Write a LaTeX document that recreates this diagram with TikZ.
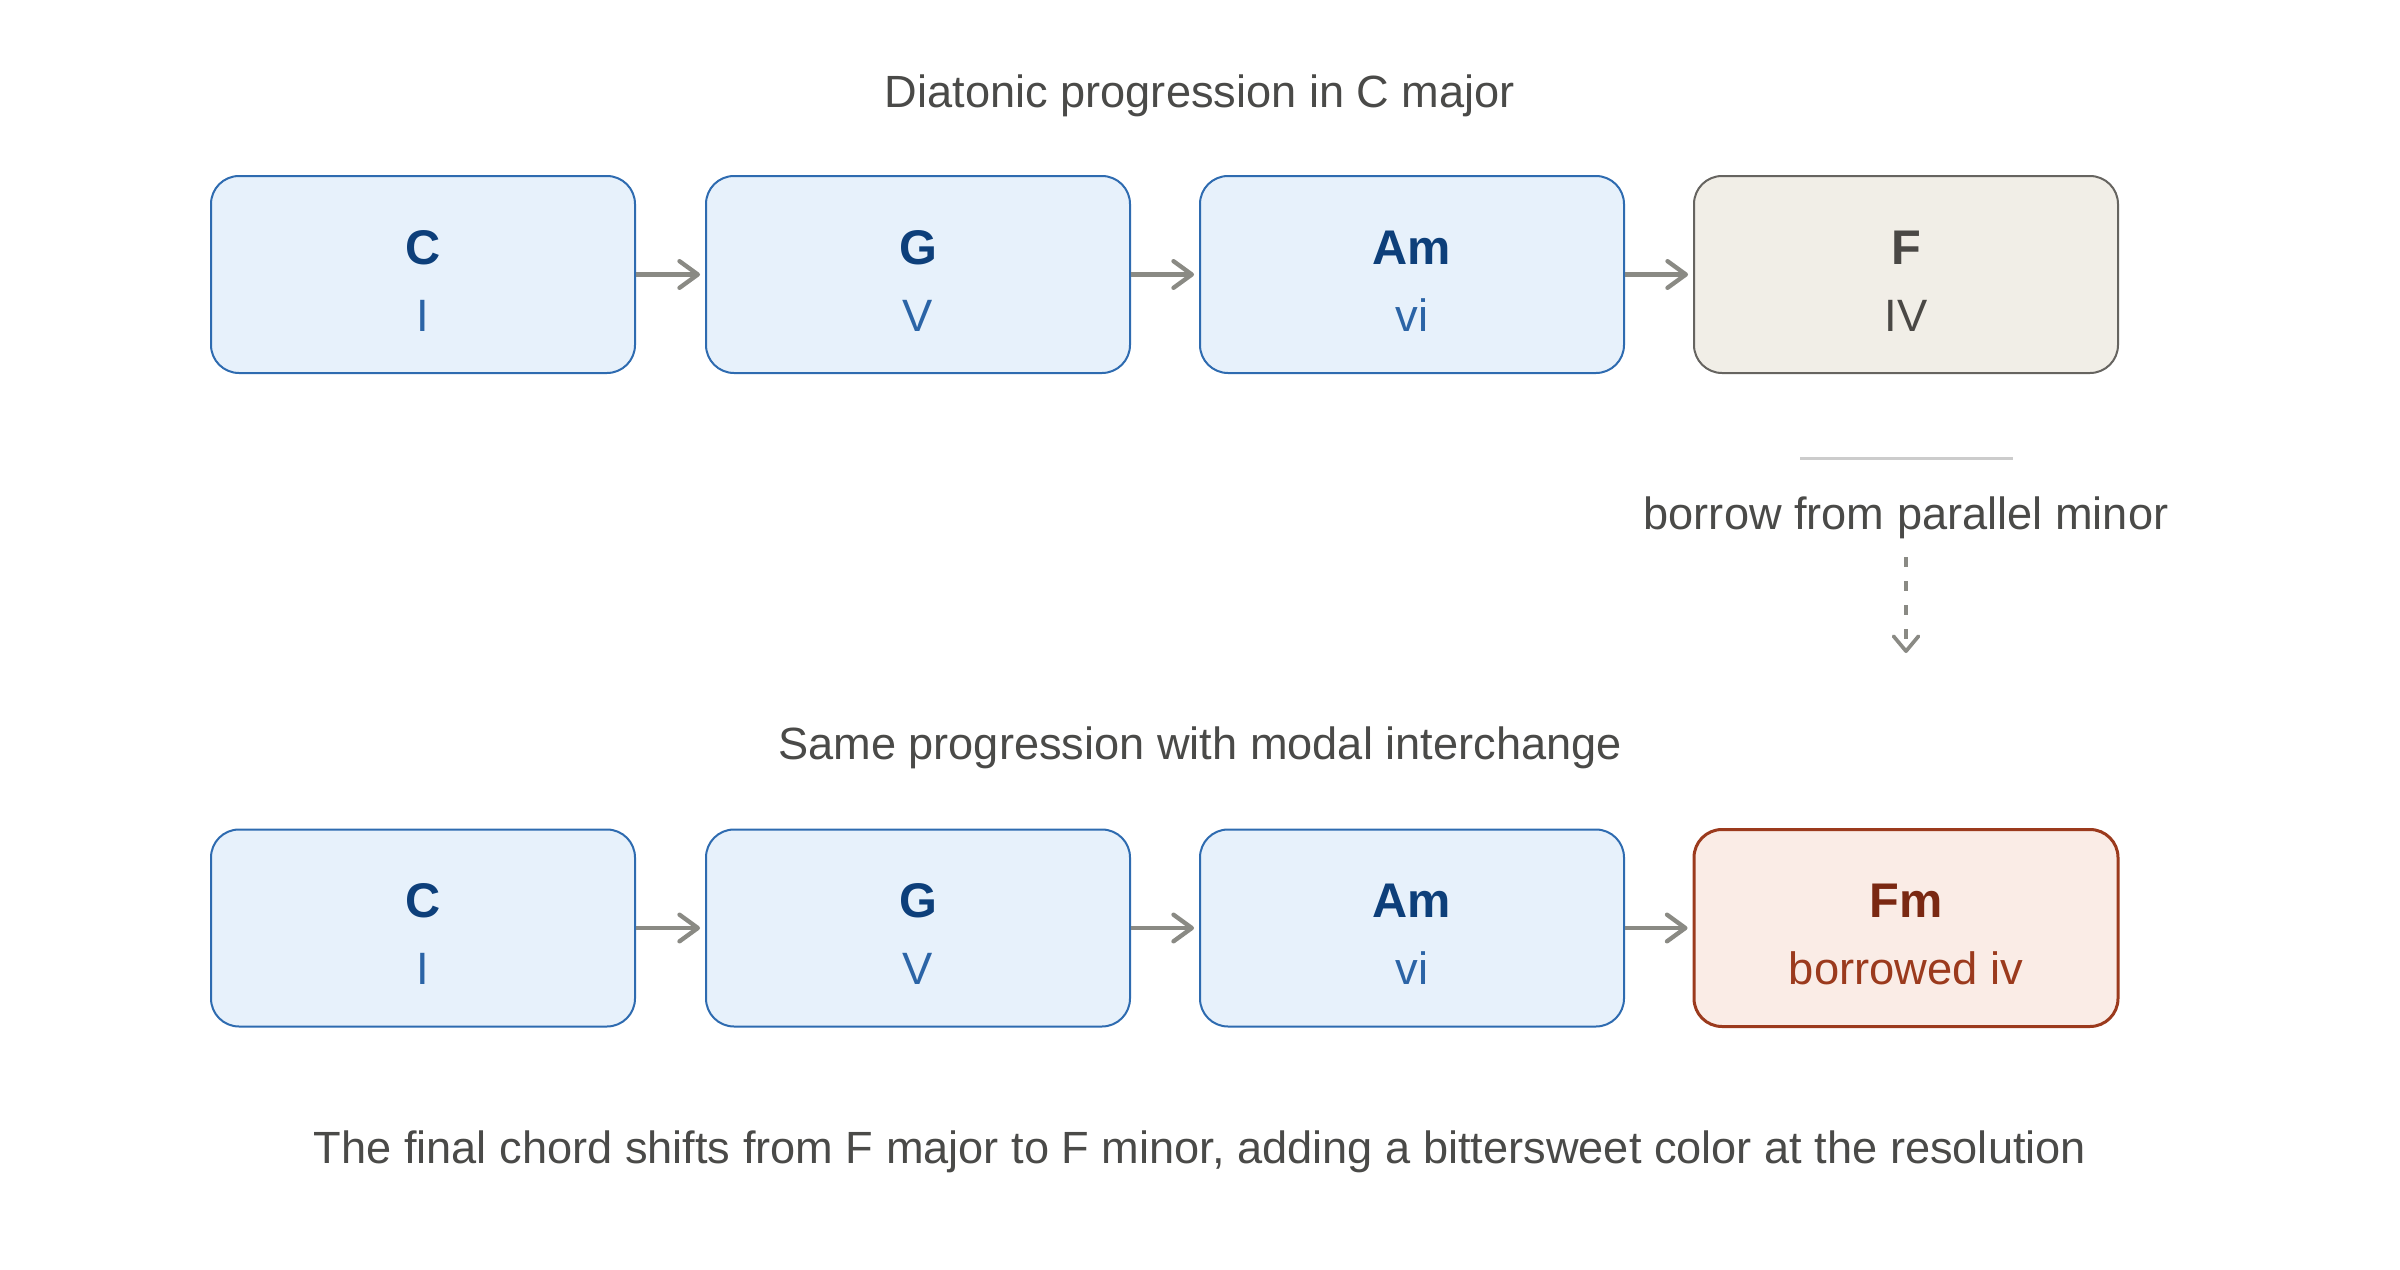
\documentclass[tikz,border=0pt]{standalone}
\usepackage{fontspec}
\setmainfont{Liberation Sans}
\usetikzlibrary{arrows.meta,calc}
\definecolor{bluefill}{HTML}{E7F1FB}
\definecolor{blueline}{HTML}{2E6BB0}
\definecolor{bluechord}{HTML}{0D3F7A}
\definecolor{blueroman}{HTML}{2B64A6}
\definecolor{grayfill}{HTML}{F1EEE7}
\definecolor{grayline}{HTML}{666460}
\definecolor{graytext}{HTML}{4A4845}
\definecolor{redfill}{HTML}{FAECE6}
\definecolor{redline}{HTML}{9B3A1D}
\definecolor{redchord}{HTML}{7A2812}
\definecolor{arrowgray}{HTML}{8A8A84}
\definecolor{titlegray}{HTML}{4A4A48}
\definecolor{sepgray}{HTML}{CCCCCC}
\begin{document}
\begin{tikzpicture}[x=0.3pt,y=-0.3pt,
  basebox/.style={rectangle, rounded corners=8.4pt, minimum width=127.2pt, minimum height=59.1pt, inner sep=0pt, line width=0.6pt},
  bluebox/.style={basebox, draw=blueline, fill=bluefill},
  graybox/.style={basebox, draw=grayline, fill=grayfill},
  redbox/.style={basebox, draw=redline, fill=redfill, line width=0.9pt},
  chordtxt/.style={anchor=base, inner sep=0pt, font=\fontsize{14.6pt}{17pt}\selectfont\bfseries},
  romantxt/.style={anchor=base, inner sep=0pt, font=\fontsize{13.6pt}{16pt}\selectfont},
  titletxt/.style={anchor=base, inner sep=0pt, text=titlegray, font=\fontsize{13.55pt}{16pt}\selectfont},
  flow/.style={draw=arrowgray, line width=1.3pt, -{Straight Barb[length=5.5pt, width=8pt, line cap=round, line join=round]}, shorten >=1.5pt},
  borrowarrow/.style={draw=arrowgray, line width=1.1pt, dash pattern=on 3pt off 4.2pt, -{Straight Barb[length=4.5pt, width=7.5pt, line cap=round, line join=round]}},
]
\useasboundingbox (0,0) rectangle (2400,1270);

% titles
\node[titletxt] (t1) at (1200,107) {Diatonic progression in C major};
\node[titletxt] (t2) at (1200,759) {Same progression with modal interchange};
\node[titletxt] (cap) at (1200,1163) {The final chord shifts from F major to F minor, adding a bittersweet color at the resolution};

% row 1
\node[bluebox] (a1) at (423,274.5) {};
\node[bluebox] (a2) at (918,274.5) {};
\node[bluebox] (a3) at (1412,274.5) {};
\node[graybox] (a4) at (1906,274.5) {};

\node[chordtxt, text=bluechord] (a1c) at ($(a1.north)+(0,89)$) {C};
\node[romantxt, text=blueroman] (a1r) at ($(a1.north)+(0,156)$) {I};
\node[chordtxt, text=bluechord] (a2c) at ($(a2.north)+(0,89)$) {G};
\node[romantxt, text=blueroman] (a2r) at ($(a2.north)+(0,156)$) {V};
\node[chordtxt, text=bluechord] (a3c) at ($(a3.north)+(0,89)$) {Am};
\node[romantxt, text=blueroman] (a3r) at ($(a3.north)+(0,156)$) {vi};
\node[chordtxt, text=graytext] (a4c) at ($(a4.north)+(0,89)$) {F};
\node[romantxt, text=graytext] (a4r) at ($(a4.north)+(0,156)$) {IV};

\draw[flow] (a1.east) -- (a2.west);
\draw[flow] (a2.east) -- (a3.west);
\draw[flow] (a3.east) -- (a4.west);

% borrow annotation
\coordinate (s1) at (1800,458);
\coordinate (s2) at (2013,458);
\draw[sepgray, line width=0.9pt] (s1) -- (s2);
\node[titletxt] (bor) at (1906,529) {borrow from parallel minor};
\coordinate (d1) at (1906,557);
\coordinate (d2) at (1906,653);
\draw[borrowarrow] (d1) -- (d2);

% row 2
\node[bluebox] (b1) at (423,928) {};
\node[bluebox] (b2) at (918,928) {};
\node[bluebox] (b3) at (1412,928) {};
\node[redbox] (b4) at (1906,928) {};

\node[chordtxt, text=bluechord] (b1c) at ($(b1.north)+(0,89)$) {C};
\node[romantxt, text=blueroman] (b1r) at ($(b1.north)+(0,156)$) {I};
\node[chordtxt, text=bluechord] (b2c) at ($(b2.north)+(0,89)$) {G};
\node[romantxt, text=blueroman] (b2r) at ($(b2.north)+(0,156)$) {V};
\node[chordtxt, text=bluechord] (b3c) at ($(b3.north)+(0,89)$) {Am};
\node[romantxt, text=blueroman] (b3r) at ($(b3.north)+(0,156)$) {vi};
\node[chordtxt, text=redchord] (b4c) at ($(b4.north)+(0,89)$) {Fm};
\node[romantxt, text=redline] (b4r) at ($(b4.north)+(0,156)$) {borrowed iv};

\draw[flow] (b1.east) -- (b2.west);
\draw[flow] (b2.east) -- (b3.west);
\draw[flow] (b3.east) -- (b4.west);
\end{tikzpicture}
\end{document}
